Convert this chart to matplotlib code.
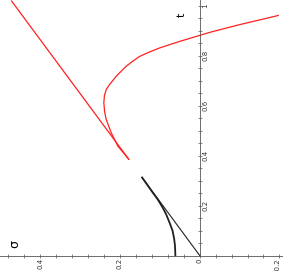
import numpy as np
import matplotlib.pyplot as plt
import matplotlib.transforms as mtransforms

# ---------------------------------------------
# Donnees (sigma, t)
# ---------------------------------------------
# droite noire issue de l'origine
noir_droite_sigma = [0.0, 0.1445]
noir_droite_t = [0.0, 0.312]

# courbe noire
noir_courbe_sigma = [0.061, 0.062, 0.064, 0.068, 0.076, 0.0845, 0.093, 0.1055, 0.118, 0.1445]
noir_courbe_t = [0.0, 0.039, 0.066, 0.099, 0.133, 0.166, 0.192, 0.225, 0.252, 0.312]

# droite rouge
rouge_droite_sigma = [0.178, 0.472]
rouge_droite_t = [0.385, 1.018]

# courbe rouge
rouge_courbe_sigma = [0.178, 0.2055, 0.222, 0.2345, 0.2385, 0.2405, 0.239, 0.2345, 0.226,
                      0.2095, 0.197, 0.1845, 0.168, 0.151, 0.126, 0.101, 0.076, 0.051,
                      0.003, -0.024, -0.099, -0.197]
rouge_courbe_t = [0.385, 0.438, 0.491, 0.544, 0.575, 0.611, 0.64, 0.664, 0.684,
                  0.717, 0.737, 0.757, 0.777, 0.796, 0.814, 0.830, 0.843, 0.856,
                  0.879, 0.892, 0.923, 0.96]

sigma_ticks = [0.4, 0.2, 0.0, -0.2]
sigma_labels = ['0.4', '0.2', '0', '-0.2']
t_ticks = [0.2, 0.4, 0.6, 0.8, 1.0]
t_labels = ['0.2', '0.4', '0.6', '0.8', '1']

# ---------------------------------------------
# Figure (tournee de 90 degres : t vers le haut, sigma vers la gauche)
# ---------------------------------------------
fig = plt.figure(figsize=(2.83, 2.71), dpi=100)
ax = fig.add_axes([0, 0, 1, 1])

ax.plot(noir_droite_sigma, noir_droite_t, color='#202020', linewidth=0.8)
ax.plot(noir_courbe_sigma, noir_courbe_t, color='#202020', linewidth=1.3)
ax.plot(rouge_droite_sigma, rouge_droite_t, color='#ff2020', linewidth=0.9)
ax.plot(rouge_courbe_sigma, rouge_courbe_t, color='#ff2020', linewidth=0.9)

ax.set_xlim(0.501, -0.209)
ax.set_ylim(-0.062, 1.022)

# axes passant par l'origine
for s in ['left', 'top']:
    ax.spines[s].set_visible(False)
ax.spines['bottom'].set_position(('data', 0))
ax.spines['right'].set_position(('data', 0))
ax.spines['right'].set_bounds(0, 1.022)
for s in ['bottom', 'right']:
    ax.spines[s].set_color('#555555')
    ax.spines[s].set_linewidth(0.6)

ax.yaxis.tick_right()
ax.set_xticks(sigma_ticks)
ax.set_xticklabels(sigma_labels, rotation=90, fontsize=5)
ax.set_xticks(np.arange(-0.2, 0.52, 0.04), minor=True)
ax.set_yticks(t_ticks)
ax.set_yticklabels(t_labels, rotation=90, fontsize=5, va='center')
ax.set_yticks(np.arange(0.05, 1.0, 0.05), minor=True)
ax.tick_params(which='both', direction='inout', length=3, width=0.5,
               color='#555555', labelcolor='#333333', pad=0.5)

# decaler un peu le dernier label pour qu'il reste dans l'image
decalage = mtransforms.ScaledTranslation(-2 / 100, 0, fig.dpi_scale_trans)
lab = ax.get_xticklabels()[-1]
lab.set_transform(lab.get_transform() + decalage)

ax.text(0.044, 0.963, 't', rotation=90, fontsize=8, ha='center', va='center')
ax.text(0.464, 0.046, 'σ', rotation=90, fontsize=9, ha='center', va='center')

plt.savefig('out.png', dpi=100)
